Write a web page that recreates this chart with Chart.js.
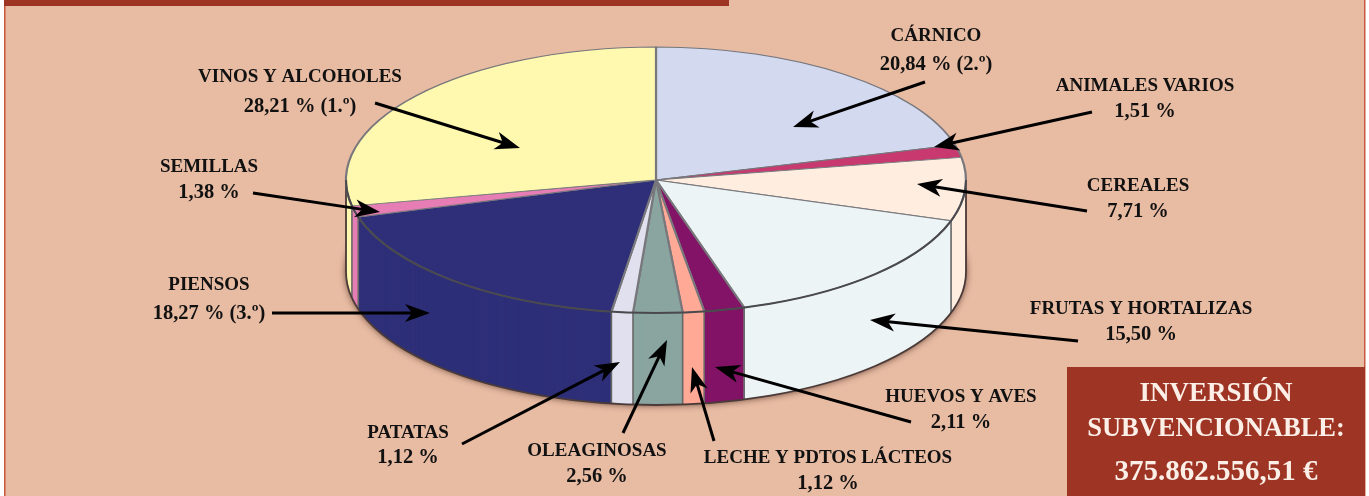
<!DOCTYPE html>
<html lang="es">
<head>
<meta charset="utf-8">
<title>Inversión subvencionable por sectores</title>
<style>
  html, body { margin: 0; padding: 0; background: #fff; overflow: hidden; }
  canvas { display: block; }
</style>
<script src="https://cdn.jsdelivr.net/npm/chart.js@4/dist/chart.umd.js"></script>
</head>
<body>
<canvas id="pie" width="1369" height="496"></canvas>
<script>
// datos, en el orden del grafico (sentido horario desde arriba)
const categories = ['CÁRNICO', 'ANIMALES VARIOS', 'CEREALES', 'FRUTAS Y HORTALIZAS', 'HUEVOS Y AVES',
    'LECHE Y PDTOS LÁCTEOS', 'OLEAGINOSAS', 'PATATAS', 'PIENSOS', 'SEMILLAS', 'VINOS Y ALCOHOLES'];
const shares = [20.84, 1.51, 7.71, 15.50, 2.11, 1.12, 2.56, 1.12, 18.27, 1.38, 28.21];
const shareLabels = ['20,84 % (2.º)', '1,51 %', '7,71 %', '15,50 %', '2,11 %',
    '1,12 %', '2,56 %', '1,12 %', '18,27 % (3.º)', '1,38 %', '28,21 % (1.º)'];
const sliceColors = ['#D3DAF0', '#C8396F', '#FFEEE0', '#EDF4F5', '#821366',
    '#FFA996', '#8AA5A0', '#E0E0EE', '#2E2F78', '#E67DB4', '#FFF9B0'];
const totalLines = ['INVERSIÓN', 'SUBVENCIONABLE:', '375.862.556,51 €'];

// rotulos: centro x, linea 1 y, linea 2 y (mismo orden que categories)
const labelSpots = [[936, 36, 65], [1145, 86, 112], [1138, 186, 212], [1141, 309, 335], [961, 397, 423],
    [828, 458, 484], [597, 451, 477], [408, 433, 458], [209, 285, 314], [209, 167, 193], [300, 77, 107]];
// flechas: cola x, y, punta x, y
const arrowSpots = [[925, 82, 793, 127], [1092, 112, 934, 147], [1087, 211, 917, 184], [1078, 341, 870, 320],
    [911, 422, 715, 367], [714, 441, 692, 367], [623, 433, 667, 340], [462, 444, 620, 362],
    [272, 313, 430, 313], [253, 193, 380, 212], [375, 103, 520, 148]];

const RADIUS = 310;
const SQUASH = 133 / 310;
const DEPTH = 92;
const RED = '#9E3423';
const PEACH = '#E8BBA3';
const SERIF = '"Liberation Serif", serif';

function squash(ctx, cx, cy) {
    ctx.translate(cx, cy);
    ctx.scale(1, SQUASH);
    ctx.translate(-cx, -cy);
}

function drawArrow(ctx, x0, y0, x1, y1) {
    const a = Math.atan2(y1 - y0, x1 - x0);
    ctx.save();
    ctx.translate(x1, y1);
    ctx.rotate(a);
    const len = Math.hypot(x1 - x0, y1 - y0);
    ctx.fillStyle = ctx.strokeStyle = '#000';
    ctx.lineWidth = 3;
    ctx.beginPath();
    ctx.moveTo(-len, 0);
    ctx.lineTo(-16, 0);
    ctx.stroke();
    ctx.beginPath();
    ctx.moveTo(0, 0);
    ctx.lineTo(-25, -9);
    ctx.lineTo(-18, 0);
    ctx.lineTo(-25, 9);
    ctx.closePath();
    ctx.fill();
    ctx.restore();
}

// fondo y marco de la pagina
const framePlugin = {
    id: 'frame',
    beforeDraw(chart) {
        const ctx = chart.ctx;
        ctx.save();
        ctx.fillStyle = PEACH;
        ctx.fillRect(4, 0, 1361, 496);
        ctx.fillStyle = '#C9563F';
        ctx.fillRect(4, 0, 1.5, 496);
        ctx.fillRect(1364, 0, 1.5, 496);
        ctx.fillStyle = RED;
        ctx.fillRect(4, 0, 725, 6);
        ctx.restore();
    }
};

// la tarta sale de los arcos de Chart.js, aplastados y apilados para dar el volumen
const pie3dPlugin = {
    id: 'pie3d',
    beforeDatasetsDraw(chart) {
        const ctx = chart.ctx;
        const arcs = chart.getDatasetMeta(0).data;
        const cx = arcs[0].x;
        const cy = arcs[0].y;

        // pared lateral: de abajo hacia arriba
        for (let d = DEPTH; d >= 1; d--) {
            ctx.save();
            if (d === DEPTH) {
                ctx.shadowColor = 'rgba(60,30,20,0.85)';
                ctx.shadowBlur = 7;
            }
            squash(ctx, cx, cy + d);
            ctx.translate(0, d);
            arcs.forEach(arc => {
                const opts = arc.options;
                arc.options = Object.assign({}, opts, { borderWidth: 0 });
                arc.draw(ctx);
                arc.options = opts;
            });
            ctx.restore();
        }

        // juntas verticales entre porciones
        ctx.save();
        ctx.strokeStyle = '#666';
        ctx.lineWidth = 1.6;
        arcs.forEach(arc => {
            const s = Math.sin(arc.startAngle);
            if (s < -0.02) return;
            const x = cx + RADIUS * Math.cos(arc.startAngle);
            const y = cy + RADIUS * SQUASH * s;
            ctx.beginPath();
            ctx.moveTo(x, y);
            ctx.lineTo(x, y + DEPTH);
            ctx.stroke();
        });
        // contorno inferior y bordes de la pared
        ctx.strokeStyle = '#4A3A38';
        ctx.lineWidth = 1.8;
        ctx.beginPath();
        ctx.moveTo(cx - RADIUS, cy);
        ctx.lineTo(cx - RADIUS, cy + DEPTH);
        ctx.ellipse(cx, cy + DEPTH, RADIUS, RADIUS * SQUASH, 0, Math.PI, 0, true);
        ctx.lineTo(cx + RADIUS, cy);
        ctx.stroke();
        ctx.restore();

        // cara superior
        ctx.save();
        squash(ctx, cx, cy);
        arcs.forEach(arc => arc.draw(ctx));
        ctx.restore();

        // borde delantero de la cara superior
        ctx.save();
        ctx.strokeStyle = '#4A4A4E';
        ctx.lineWidth = 2;
        ctx.beginPath();
        ctx.ellipse(cx, cy, RADIUS, RADIUS * SQUASH, 0, 0, Math.PI);
        ctx.stroke();
        ctx.restore();

        return false;
    }
};

const labelsPlugin = {
    id: 'labels',
    afterDraw(chart) {
        const ctx = chart.ctx;
        ctx.save();
        arrowSpots.forEach(a => drawArrow(ctx, a[0], a[1], a[2], a[3]));

        ctx.fillStyle = '#111';
        ctx.textAlign = 'center';
        ctx.textBaseline = 'middle';
        categories.forEach((name, i) => {
            const spot = labelSpots[i];
            ctx.font = 'bold 19px ' + SERIF;
            ctx.fillText(name, spot[0], spot[1]);
            ctx.font = 'bold 20.5px ' + SERIF;
            ctx.fillText(shareLabels[i], spot[0], spot[2]);
        });

        // recuadro del total
        ctx.fillStyle = RED;
        ctx.fillRect(1067, 367, 298, 129);
        ctx.fillStyle = '#FBEFE8';
        ctx.font = 'bold 27px ' + SERIF;
        ctx.fillText(totalLines[0], 1216, 394);
        ctx.font = 'bold 26.5px ' + SERIF;
        ctx.fillText(totalLines[1], 1216, 429);
        ctx.font = 'bold 29px ' + SERIF;
        ctx.fillText(totalLines[2], 1216, 473);
        ctx.restore();
    }
};

new Chart(document.getElementById('pie'), {
    type: 'pie',
    data: {
        labels: categories,
        datasets: [{
            data: shares,
            backgroundColor: sliceColors,
            borderColor: '#77777C',
            borderWidth: 2.2,
            radius: RADIUS
        }]
    },
    options: {
        responsive: false,
        animation: false,
        layout: { padding: { left: 0, right: 57, top: 0, bottom: 136 } },
        events: [],
        plugins: {
            legend: { display: false },
            tooltip: { enabled: false }
        }
    },
    plugins: [framePlugin, pie3dPlugin, labelsPlugin]
});
</script>
</body>
</html>
